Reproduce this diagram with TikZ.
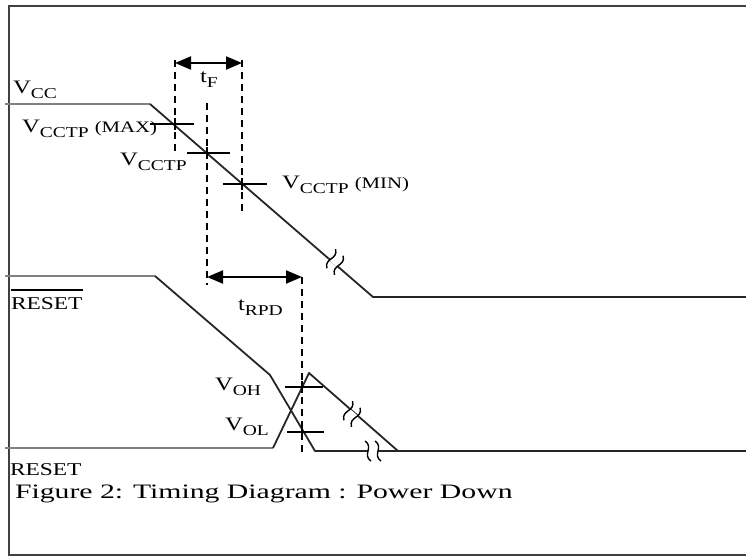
\documentclass[tikz,border=0pt]{standalone}
\usepackage{fontspec}
\setmainfont{Liberation Serif}
\usetikzlibrary{arrows.meta}
\newcommand{\lsub}[1]{\raisebox{-5pt}{\fontsize{15}{15}\selectfont #1}}
\newcommand{\lsm}[1]{{\fontsize{16}{16}\selectfont #1}}
\tikzset{
  lbl/.style={anchor=base west, inner sep=0pt, outer sep=0pt, xscale=1.3, font=\fontsize{19}{21}\selectfont},
  figcap/.style={anchor=base west, inner sep=0pt, outer sep=0pt, xscale=1.45, font=\fontsize{20.5}{22}\selectfont},
  frm/.style={line width=2.2pt, black!75},
  sig/.style={line width=1.8pt, black!85, line join=round},
  sigl/.style={line width=2pt, black!50, line join=round},
  dsh/.style={line width=1.8pt, dash pattern=on 7pt off 5pt},
  dimarrow/.style={line width=2pt, {Triangle[length=16pt,width=13pt]}-{Triangle[length=16pt,width=13pt]}},
  tk/.style={line width=1.5pt},
  brkmark/.pic={
    \fill[white] (-5,-2.5) rectangle (5,2.5);
    \draw[line width=1.4pt] (-8,-10) .. controls (1,-4) and (-11,4) .. (-2,10);
    \draw[line width=1.4pt] (2,-10) .. controls (11,-4) and (-1,4) .. (8,10);
  }
}
\begin{document}
\begin{tikzpicture}[x=1pt,y=-1pt]
\useasboundingbox (0,0) rectangle (746,557);
% frame
\draw[frm] (8,6) -- (746,6);
\draw[frm] (9,5) -- (9,556);
\draw[frm] (8,555) -- (746,555);

% key coordinates
\coordinate (v0) at (5,104);
\coordinate (v1) at (150,104);
\coordinate (v2) at (373,297);
\coordinate (v3) at (746,297);
\coordinate (rb0) at (5,276);
\coordinate (rb1) at (155,276);
\coordinate (rb2) at (270,375);
\coordinate (rb3) at (315,451);
\coordinate (rb4) at (746,451);
\coordinate (r0) at (5,448);
\coordinate (r1) at (273,448);
\coordinate (r2) at (309,373);
\coordinate (r3) at (398,451);

% waveforms
\draw[sigl] (v0) -- (v1);
\draw[sig] (v1) -- (v2) -- (v3);
\draw[sigl] (rb0) -- (rb1);
\draw[sig] (rb1) -- (rb2) -- (rb3) -- (rb4);
\draw[sigl] (r0) -- (r1);
\draw[sig] (r1) -- (r2) -- (r3);

% break marks
\pic[rotate=-41] at (335,262) {brkmark};
\pic[rotate=-41] at (352,414) {brkmark};
\pic at (373,451) {brkmark};

% dashed timing lines
\coordinate (d1t) at (175,60);  \coordinate (d1b) at (175,152);
\coordinate (d2t) at (207,103); \coordinate (d2b) at (207,285);
\coordinate (d3t) at (242,60);  \coordinate (d3b) at (242,213);
\coordinate (d4t) at (302,277); \coordinate (d4b) at (302,455);
\draw[dsh] (d1t) -- (d1b);
\draw[dsh] (d2t) -- (d2b);
\draw[dsh] (d3t) -- (d3b);
\draw[dsh] (d4t) -- (d4b);

% dimension arrows
\coordinate (tfl) at (175,63); \coordinate (tfr) at (242,63);
\coordinate (trl) at (207,277); \coordinate (trr) at (302,277);
\draw[dimarrow] (tfl) -- (tfr);
\draw[dimarrow] (trl) -- (trr);

% crosshair marks
\draw[tk] (150,124) -- (194,124); \draw[tk] (175,118) -- (175,130);
\draw[tk] (187,153) -- (230,153); \draw[tk] (207,147) -- (207,159);
\draw[tk] (223,184) -- (267,184); \draw[tk] (242,178) -- (242,190);
\draw[tk] (285,387) -- (323,387); \draw[tk] (302,381) -- (302,393);
\draw[tk] (287,432) -- (324,432); \draw[tk] (302,426) -- (302,438);

% labels
\node[lbl] (lvcc) at (13,93) {V\lsub{CC}};
\node[lbl] (lmax) at (22,132) {V\lsub{CCTP} \lsm{(MAX)}};
\node[lbl] (ltp) at (120,165) {V\lsub{CCTP}};
\node[lbl] (lmin) at (282,188) {V\lsub{CCTP} \lsm{(MIN)}};
\node[lbl] (ltf) at (200,82) {t\lsub{F}};
\node[lbl] (ltr) at (238,310) {t\lsub{RPD}};
\node[lbl, font=\fontsize{18}{20}\selectfont] (lrb) at (11,309) {RESET};
\draw[line width=1.5pt] ([yshift=7pt]lrb.north west) -- ([yshift=7pt]lrb.north east);
\node[lbl] (loh) at (215,390) {V\lsub{OH}};
\node[lbl] (lol) at (225,430) {V\lsub{OL}};
\node[lbl, font=\fontsize{18}{20}\selectfont] (lr) at (10,475) {RESET};
\node[figcap] (caption) at (15,498) {Figure 2: Timing Diagram : Power Down};
\end{tikzpicture}
\end{document}
